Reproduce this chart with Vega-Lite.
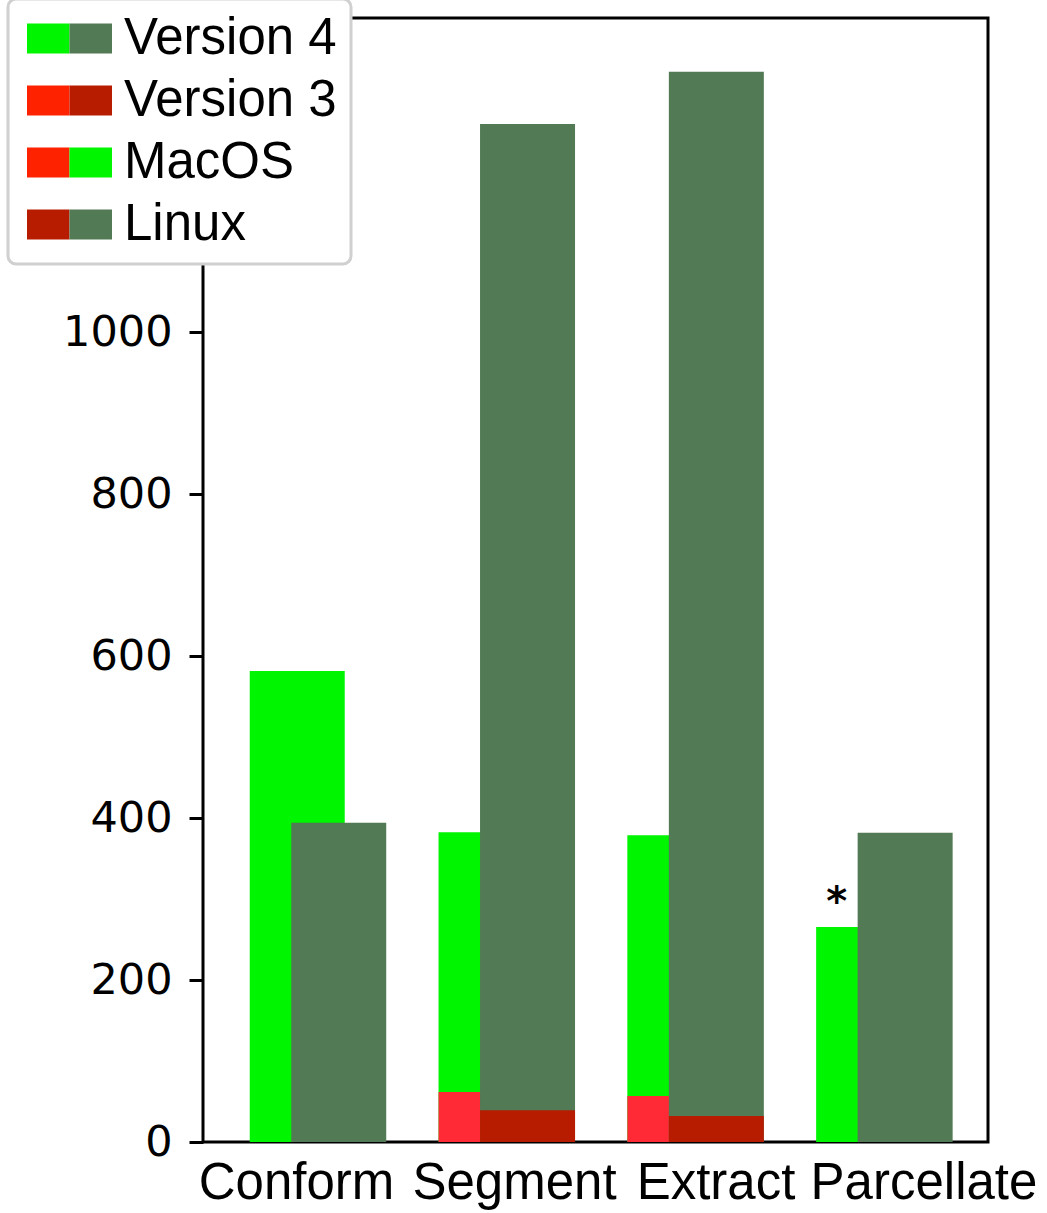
{
  "$schema": "https://vega.github.io/schema/vega-lite/v6.json",
  "width": 785,
  "height": 1124,
  "autosize": {"type": "none"},
  "padding": {"left": 203, "top": 18, "right": 59, "bottom": 71},
  "background": "white",
  "config": {"view": {"stroke": "black", "strokeWidth": 3}, "font": "Liberation Sans"},
  "datasets": {
    "bars": [
      {"task": "Conform", "os": "MacOS", "version": "4", "series": "MacOS v4", "value": 581.5, "note": ""},
      {"task": "Segment", "os": "MacOS", "version": "4", "series": "MacOS v4", "value": 382.6, "note": ""},
      {"task": "Extract", "os": "MacOS", "version": "4", "series": "MacOS v4", "value": 378.9, "note": ""},
      {"task": "Parcellate", "os": "MacOS", "version": "4", "series": "MacOS v4", "value": 265.6, "note": "*"},
      {"task": "Segment", "os": "MacOS", "version": "3", "series": "MacOS v3", "value": 61.8, "note": ""},
      {"task": "Extract", "os": "MacOS", "version": "3", "series": "MacOS v3", "value": 56.8, "note": ""},
      {"task": "Conform", "os": "Linux", "version": "4", "series": "Linux v4", "value": 394.1, "note": ""},
      {"task": "Segment", "os": "Linux", "version": "4", "series": "Linux v4", "value": 1257, "note": ""},
      {"task": "Extract", "os": "Linux", "version": "4", "series": "Linux v4", "value": 1321.6, "note": ""},
      {"task": "Parcellate", "os": "Linux", "version": "4", "series": "Linux v4", "value": 381.8, "note": ""},
      {"task": "Segment", "os": "Linux", "version": "3", "series": "Linux v3", "value": 39.2, "note": ""},
      {"task": "Extract", "os": "Linux", "version": "3", "series": "Linux v3", "value": 32.1, "note": ""}
    ],
    "legendRows": [
      {"entry": "Version 4"},
      {"entry": "Version 3"},
      {"entry": "MacOS"},
      {"entry": "Linux"}
    ]
  },
  "layer": [
    {
      "data": {"name": "bars"},
      "mark": {"type": "bar", "width": 95},
      "encoding": {
        "x": {
          "field": "task", "type": "nominal",
          "sort": ["Conform", "Segment", "Extract", "Parcellate"],
          "scale": {"paddingInner": 0, "paddingOuter": 0.0789, "align": 0.691, "round": false},
          "axis": {
            "title": null, "labelAngle": 0, "ticks": false, "tickSize": 0, "domain": false, "grid": false,
            "labelFont": "Liberation Sans", "labelFontSize": 51, "labelColor": "black",
            "labelPadding": 16, "labelLimit": 0, "labelOverlap": false,
            "labelOffset": {
              "condition": [
                {"test": "datum.value == 'Conform'", "value": -21.5},
                {"test": "datum.value == 'Segment'", "value": 7.7},
                {"test": "datum.value == 'Extract'", "value": 20.4}
              ],
              "value": 39.6
            }
          }
        },
        "xOffset": {
          "field": "os", "type": "nominal",
          "sort": ["MacOS", "Linux"],
          "scale": {"paddingInner": 0, "paddingOuter": 0, "range": [52.9, 135.9]}
        },
        "y": {
          "field": "value", "type": "quantitative", "stack": null,
          "scale": {"domain": [0, 1388], "nice": false},
          "axis": {
            "title": null, "values": [0, 200, 400, 600, 800, 1000], "format": "d", "grid": false, "domain": false,
            "labelFont": "DejaVu Sans", "labelFontSize": 43, "labelColor": "black",
            "tickSize": 14, "tickWidth": 3, "tickColor": "black", "labelPadding": 17
          }
        },
        "color": {
          "field": "series", "type": "nominal",
          "scale": {"domain": ["MacOS v4", "MacOS v3", "Linux v4", "Linux v3"], "range": ["#00f500", "#ff2a36", "#527a55", "#b71c00"]},
          "legend": null
        }
      }
    },
    {
      "data": {"name": "bars"},
      "transform": [{"filter": "datum.note != ''"}],
      "mark": {"type": "text", "font": "DejaVu Sans", "fontWeight": "bold", "fontSize": 40, "baseline": "alphabetic", "dy": -12, "dx": -27, "color": "black"},
      "encoding": {
        "x": {"field": "task", "type": "nominal", "sort": ["Conform", "Segment", "Extract", "Parcellate"]},
        "xOffset": {"field": "os", "type": "nominal", "sort": ["MacOS", "Linux"]},
        "y": {"field": "value", "type": "quantitative"},
        "text": {"field": "note"}
      }
    },
    {
      "data": {"name": "legendRows"},
      "mark": {"type": "bar"},
      "encoding": {
        "y": {"datum": 0},
        "y2": {"datum": 0},
        "color": {
          "field": "entry", "type": "nominal",
          "scale": {"domain": ["Version 4", "Version 3", "MacOS", "Linux"], "range": ["#00f500", "#ff2200", "#ff2200", "#b71c00"]},
          "legend": {
            "title": null, "orient": "none", "legendX": -195, "legendY": -19,
            "symbolType": "M-2.833,-1H0V1H-2.833Z", "symbolSize": 900, "symbolStrokeWidth": 0, "symbolOffset": 22,
            "labelFont": "Liberation Sans", "labelFontSize": 51, "labelColor": "black", "labelOffset": 29, "labelLimit": 400,
            "rowPadding": 10, "padding": 14,
            "fillColor": "white", "strokeColor": "#d0d0d0", "cornerRadius": 8,
            "encode": {"legend": {"update": {"strokeWidth": {"value": 3}}}}
          }
        }
      }
    },
    {
      "data": {"name": "legendRows"},
      "mark": {"type": "bar"},
      "encoding": {
        "y": {"datum": 0},
        "y2": {"datum": 0},
        "color": {
          "field": "entry", "type": "nominal",
          "scale": {"domain": ["Version 4", "Version 3", "MacOS", "Linux"], "range": ["#527a55", "#b71c00", "#00f500", "#527a55"]},
          "legend": {
            "title": null, "orient": "none", "legendX": -195, "legendY": -19,
            "symbolType": "M0,-1H2.833V1H0Z", "symbolSize": 900, "symbolStrokeWidth": 0, "symbolOffset": 22,
            "labelFont": "Liberation Sans", "labelFontSize": 51, "labelColor": "black", "labelOpacity": 0, "labelOffset": 29, "labelLimit": 400,
            "rowPadding": 10, "padding": 14
          }
        }
      }
    }
  ],
  "resolve": {"scale": {"color": "independent"}, "legend": {"color": "independent"}}
}
